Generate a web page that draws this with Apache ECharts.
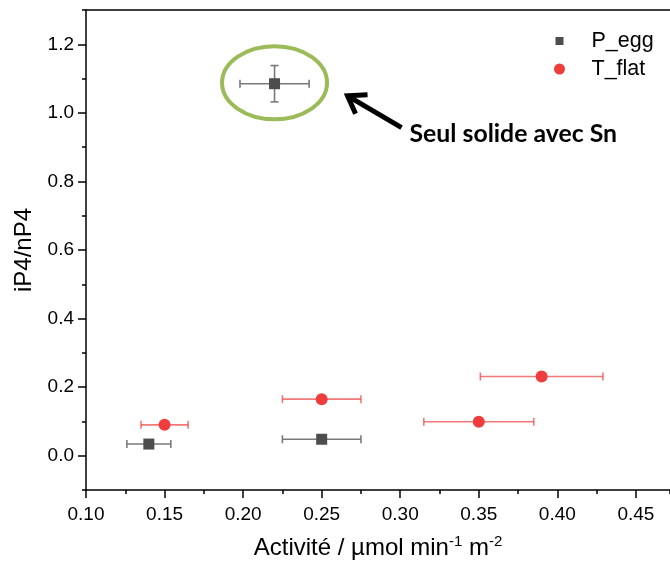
<!DOCTYPE html>
<html>
<head>
<meta charset="utf-8">
<script src="https://cdn.jsdelivr.net/npm/echarts@6/dist/echarts.min.js"></script>
<style>
  html, body { margin: 0; padding: 0; background: #fff; }
  #chart { width: 670px; height: 567px; }
</style>
</head>
<body>
<div id="chart"></div>
<script>
// P_egg
var pEggX = [0.14, 0.25, 0.22];
var pEggY = [0.034, 0.048, 1.085];
var pEggXErr = [0.014, 0.025, 0.022];
var pEggYErr = [0, 0, 0.053];

// T_flat
var tFlatX = [0.15, 0.25, 0.35, 0.39];
var tFlatY = [0.090, 0.165, 0.099, 0.231];
var tFlatXErr = [0.015, 0.025, 0.035, 0.039];
var tFlatYErr = [0, 0, 0, 0];

var xTicks = [0.10, 0.15, 0.20, 0.25, 0.30, 0.35, 0.40, 0.45];
var yTicks = [0.0, 0.2, 0.4, 0.6, 0.8, 1.0, 1.2];

var xMin = 0.10, xMax = 0.4717;
var yMin = -0.1, yMax = 1.3;

var labelFont = 'Liberation Sans, Arial, sans-serif';
var black = '#000';

function pairs(xs, ys) {
    return xs.map(function (x, i) { return [x, ys[i]]; });
}
function errData(xs, ys, exs, eys) {
    return xs.map(function (x, i) { return [x, ys[i], exs[i], eys[i]]; });
}

// barres d'erreur (x et y) avec petits chapeaux
function errorBars(color) {
    return function (params, api) {
        var x = api.value(0), y = api.value(1), ex = api.value(2), ey = api.value(3);
        var cap = 4;
        var st = { stroke: color, lineWidth: 1.6 };
        var kids = [];
        if (ex > 0) {
            var l = api.coord([x - ex, y]), r = api.coord([x + ex, y]);
            kids.push({ type: 'line', shape: { x1: l[0], y1: l[1], x2: r[0], y2: r[1] }, style: st });
            kids.push({ type: 'line', shape: { x1: l[0], y1: l[1] - cap, x2: l[0], y2: l[1] + cap }, style: st });
            kids.push({ type: 'line', shape: { x1: r[0], y1: r[1] - cap, x2: r[0], y2: r[1] + cap }, style: st });
        }
        if (ey > 0) {
            var t = api.coord([x, y + ey]), b = api.coord([x, y - ey]);
            kids.push({ type: 'line', shape: { x1: t[0], y1: t[1], x2: b[0], y2: b[1] }, style: st });
            kids.push({ type: 'line', shape: { x1: t[0] - cap, y1: t[1], x2: t[0] + cap, y2: t[1] }, style: st });
            kids.push({ type: 'line', shape: { x1: b[0] - cap, y1: b[1], x2: b[0] + cap, y2: b[1] }, style: st });
        }
        return { type: 'group', children: kids };
    };
}

var myChart = echarts.init(document.getElementById('chart'));

var option = {
    animation: false,
    backgroundColor: '#fff',
    grid: { left: 86, top: 10, right: 0, bottom: 77 },
    legend: {
        left: 549,
        top: 25,
        orient: 'vertical',
        itemWidth: 54,
        itemHeight: 11,
        itemGap: 6,
        symbolKeepAspect: true,
        textStyle: { fontFamily: labelFont, fontSize: 21.5, color: black, lineHeight: 22 },
        data: [
            { name: 'P_egg', icon: 'path://M0,0M11,11M1.5,1.5L9.5,1.5L9.5,9.5L1.5,9.5Z' },
            { name: 'T_flat', icon: 'circle' }
        ]
    },
    xAxis: [
        {
            type: 'value', min: xMin, max: xMax, position: 'bottom',
            name: 'Activité / µmol min{sup|-1} m{sup|-2}',
            nameLocation: 'middle', nameGap: 44,
            nameTextStyle: {
                fontFamily: labelFont, fontSize: 24, color: black, lineHeight: 28,
                rich: { sup: { fontFamily: labelFont, fontSize: 15, color: black, verticalAlign: 'top', lineHeight: 16 } }
            },
            axisLine: { show: true, onZero: false, lineStyle: { color: black, width: 1.5 } },
            axisTick: { show: true, length: 8, customValues: xTicks, lineStyle: { color: black, width: 1.5 } },
            axisLabel: {
                customValues: xTicks, margin: 15,
                fontFamily: labelFont, fontSize: 19, color: black,
                formatter: function (v) { return v.toFixed(2); }
            },
            splitLine: { show: false }
        },
        {
            type: 'value', min: xMin, max: xMax, interval: 0.025, position: 'bottom',
            axisLine: { show: false, onZero: false },
            axisTick: { show: true, length: 4, lineStyle: { color: black, width: 1.5 } },
            axisLabel: { show: false },
            splitLine: { show: false }
        },
        {
            type: 'value', min: xMin, max: xMax, position: 'top',
            axisLine: { show: true, onZero: false, lineStyle: { color: black, width: 1.5 } },
            axisTick: { show: false },
            axisLabel: { show: false },
            splitLine: { show: false }
        }
    ],
    yAxis: [
        {
            type: 'value', min: yMin, max: yMax, position: 'left',
            name: 'iP4/nP4', nameLocation: 'middle', nameGap: 50,
            nameTextStyle: { fontFamily: labelFont, fontSize: 24, color: black },
            axisLine: { show: true, onZero: false, lineStyle: { color: black, width: 1.5 } },
            axisTick: { show: true, length: 8, customValues: yTicks, lineStyle: { color: black, width: 1.5 } },
            axisLabel: {
                customValues: yTicks, margin: 12,
                fontFamily: labelFont, fontSize: 19, color: black,
                formatter: function (v) { return v.toFixed(1); }
            },
            splitLine: { show: false }
        },
        {
            type: 'value', min: yMin, max: yMax, interval: 0.1, position: 'left',
            axisLine: { show: false, onZero: false },
            axisTick: { show: true, length: 4, lineStyle: { color: black, width: 1.5 } },
            axisLabel: { show: false },
            splitLine: { show: false }
        }
    ],
    series: [
        {
            name: 'P_egg err', type: 'custom', z: 1,
            renderItem: errorBars('#7a7a7a'),
            data: errData(pEggX, pEggY, pEggXErr, pEggYErr)
        },
        {
            name: 'T_flat err', type: 'custom', z: 1,
            renderItem: errorBars('rgba(238,64,64,0.7)'),
            data: errData(tFlatX, tFlatY, tFlatXErr, tFlatYErr)
        },
        {
            name: 'P_egg', type: 'scatter', z: 3,
            symbol: 'rect', symbolSize: 11,
            itemStyle: { color: '#4d4d4d', opacity: 1 },
            data: pairs(pEggX, pEggY)
        },
        {
            name: 'T_flat', type: 'scatter', z: 3,
            symbol: 'circle', symbolSize: 12,
            itemStyle: { color: '#ef3d3d', opacity: 1 },
            data: pairs(tFlatX, tFlatY)
        }
    ]
};

myChart.setOption(option);

// annotation autour du point P_egg isolé (0.22, 1.085)
var p = myChart.convertToPixel({ xAxisIndex: 0, yAxisIndex: 0 }, [pEggX[2], pEggY[2]]);
var tip = [p[0] + 73, p[1] + 12];
var tail = [p[0] + 127, p[1] + 44];
myChart.setOption({
    graphic: [
        {
            type: 'ellipse', z: 10,
            shape: { cx: p[0], cy: p[1] - 1, rx: 52.5, ry: 36.5 },
            style: { fill: 'none', stroke: '#9bbb59', lineWidth: 4 }
        },
        {
            type: 'line', z: 10,
            shape: { x1: tail[0], y1: tail[1], x2: tip[0] + 3, y2: tip[1] + 2 },
            style: { stroke: '#000', lineWidth: 5 }
        },
        {
            type: 'polyline', z: 10,
            shape: { points: [[tip[0] + 20, tip[1] - 1], tip, [tip[0] + 8, tip[1] + 18]] },
            style: { stroke: '#000', lineWidth: 5, fill: 'none', lineJoin: 'miter' }
        },
        {
            type: 'text', z: 10,
            x: p[0] + 135, y: p[1] + 50,
            style: {
                text: 'Seul solide avec Sn',
                fontFamily: 'Lato, sans-serif', fontWeight: 'bold', fontSize: 24.8,
                fill: '#000', align: 'left', verticalAlign: 'middle'
            }
        }
    ]
});
</script>
</body>
</html>
